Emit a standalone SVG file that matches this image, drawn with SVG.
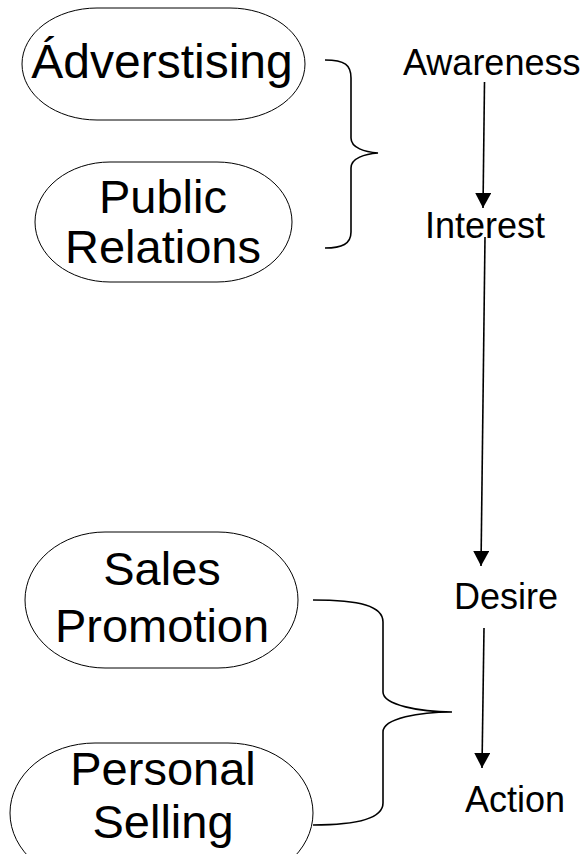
<svg xmlns="http://www.w3.org/2000/svg" width="588" height="854" viewBox="0 0 588 854">
<defs>
<marker id="ah" markerWidth="16" markerHeight="16" refX="15" refY="8" orient="auto" markerUnits="userSpaceOnUse">
<path d="M0,0 L15,8 L0,16 Z" fill="#000"/>
</marker>
<style>
.node{fill:#fff;stroke:#000;stroke-width:1}
.big{font-family:"Liberation Sans",Arial,sans-serif;font-size:47px;fill:#000;text-anchor:middle}
.lbl{font-family:"Liberation Sans",Arial,sans-serif;font-size:36px;fill:#000}
.brace{fill:none;stroke:#000;stroke-width:1.6}
.arr{fill:none;stroke:#000;stroke-width:1.6}
</style>
</defs>
<rect width="588" height="854" fill="#fff"/>
<g id="advertising">
<rect class="node" x="22" y="8" width="283" height="112" rx="75" ry="56"/>
<text class="big" x="162" y="78" style="font-size:48px">Ádverstising</text>
</g>
<g id="public-relations">
<rect class="node" x="35" y="162" width="257" height="120" rx="75" ry="60"/>
<text class="big" x="163" y="213">Public</text>
<text class="big" x="163" y="263">Relations</text>
</g>
<g id="sales-promotion">
<rect class="node" x="25" y="532" width="273" height="136" rx="80" ry="68"/>
<text class="big" x="162" y="585">Sales</text>
<text class="big" x="162" y="642">Promotion</text>
</g>
<g id="personal-selling">
<rect class="node" x="10" y="743" width="303" height="140" rx="85" ry="70"/>
<text class="big" x="163" y="785">Personal</text>
<text class="big" x="163" y="838">Selling</text>
</g>
<g id="awareness"><text class="lbl" x="403" y="75">Awareness</text></g>
<g id="interest"><text class="lbl" x="425" y="238">Interest</text></g>
<g id="desire"><text class="lbl" x="454" y="609">Desire</text></g>
<g id="action"><text class="lbl" x="465" y="812">Action</text></g>
<g id="connectors">
<path class="brace" d="M325,60 C345,60 351,65 351,78 L351,138 C351,148 365,152 378,153 C365,154 351,158 351,168 L351,232 C351,244 342,248 325,248"/>
<path class="brace" d="M313,600 C360,600 383,606 383,622 L383,692 C383,705 420,712 452,712 C420,712 383,718 383,732 L383,803 C383,818 360,825 313,825"/>
<line class="arr" x1="484.5" y1="82" x2="483" y2="208" marker-end="url(#ah)"/>
<line class="arr" x1="485" y1="237" x2="481" y2="566" marker-end="url(#ah)"/>
<line class="arr" x1="484" y1="628" x2="482" y2="768" marker-end="url(#ah)"/>
</g>
</svg>
